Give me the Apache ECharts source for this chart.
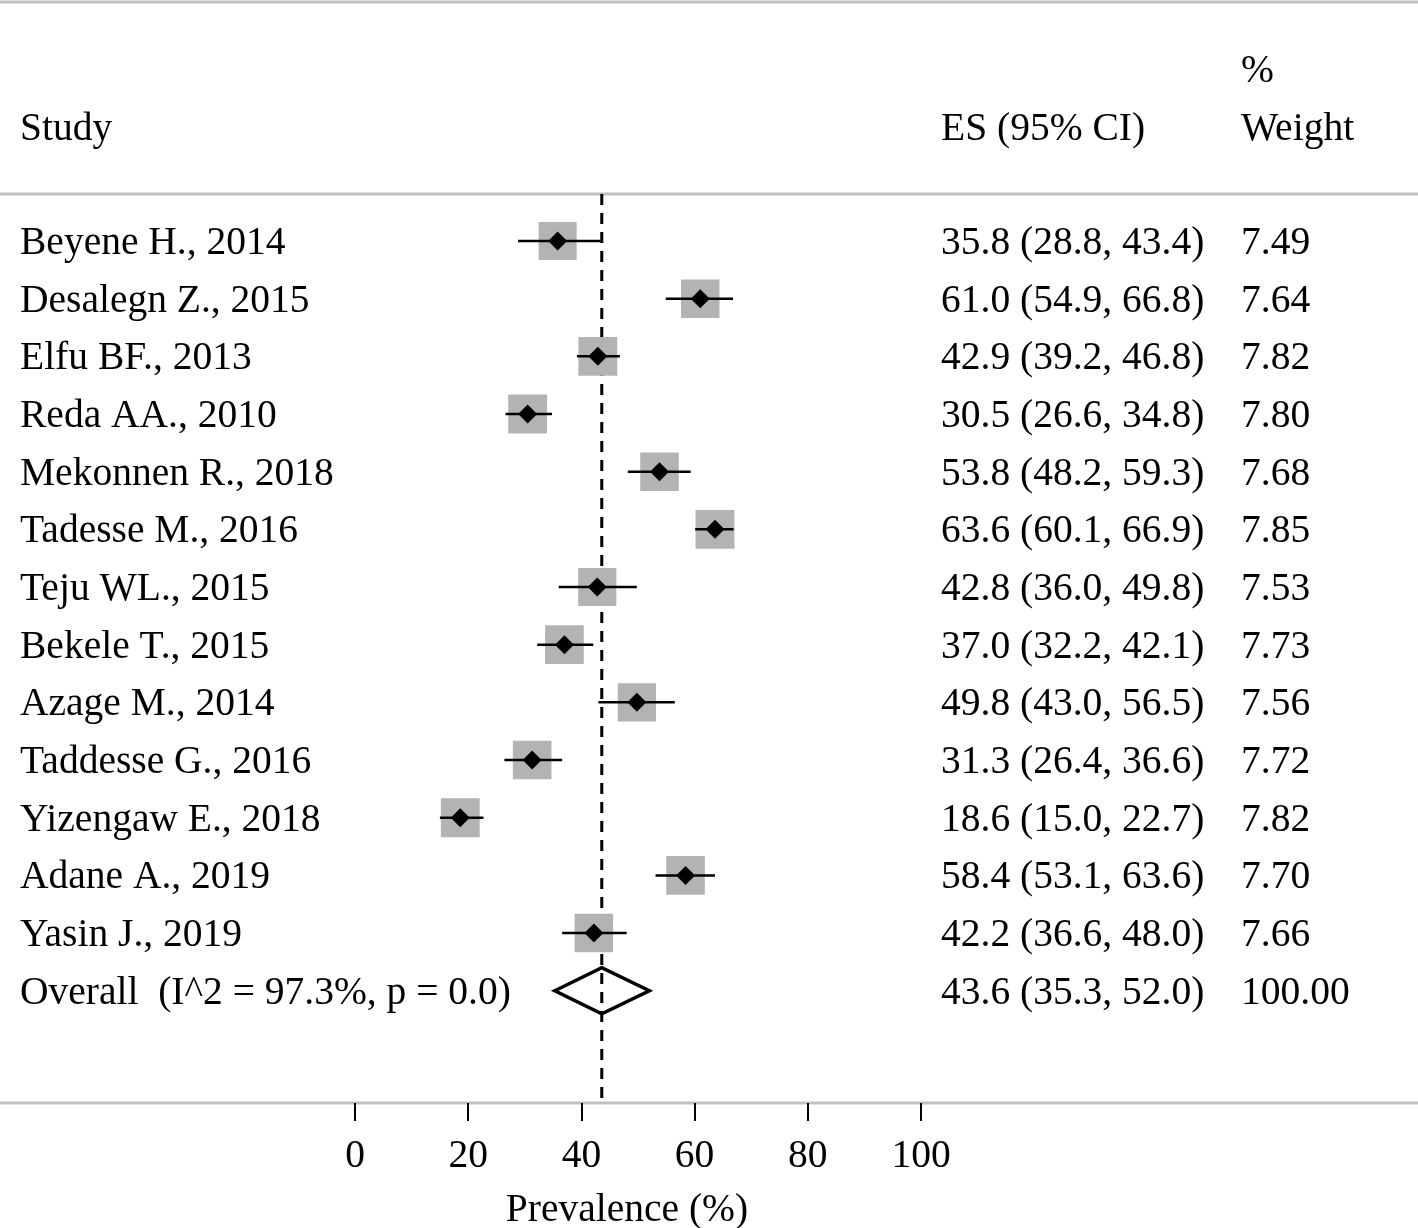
<!DOCTYPE html>
<html><head><meta charset="utf-8">
<script src="https://cdn.jsdelivr.net/npm/echarts@6/dist/echarts.min.js"></script>
<style>html,body{margin:0;padding:0;background:#fff}#c{width:1418px;height:1228px}</style>
</head><body><div id="c"></div>
<script>
const studies = ['Beyene H., 2014','Desalegn Z., 2015','Elfu BF., 2013','Reda AA., 2010','Mekonnen R., 2018','Tadesse M., 2016','Teju WL., 2015','Bekele T., 2015','Azage M., 2014','Taddesse G., 2016','Yizengaw E., 2018','Adane A., 2019','Yasin J., 2019'];
const es = [35.8, 61.0, 42.9, 30.5, 53.8, 63.6, 42.8, 37.0, 49.8, 31.3, 18.6, 58.4, 42.2];
const lo = [28.8, 54.9, 39.2, 26.6, 48.2, 60.1, 36.0, 32.2, 43.0, 26.4, 15.0, 53.1, 36.6];
const hi = [43.4, 66.8, 46.8, 34.8, 59.3, 66.9, 49.8, 42.1, 56.5, 36.6, 22.7, 63.6, 48.0];
const weights = [7.49, 7.64, 7.82, 7.80, 7.68, 7.85, 7.53, 7.73, 7.56, 7.72, 7.82, 7.70, 7.66];
const overallLabel = 'Overall  (I^2 = 97.3%, p = 0.0)';
const overallEs = [43.6];
const overallLo = [35.3];
const overallHi = [52.0];
const overallWeight = [100.00];
const xTicks = [0, 20, 40, 60, 80, 100];
const xTitle = 'Prevalence (%)';
const headers = {study: 'Study', es: 'ES (95% CI)', pct: '%', weight: 'Weight'};

const FONT = '39.5px "Liberation Serif", "Times New Roman", serif';
const X_STUDY = 20, X_ES = 941, X_W = 1241;
const TEXT_DY = 2.5;
const fmt = (v) => v.toFixed(1);
const esText = (e, l, h) => fmt(e) + ' (' + fmt(l) + ', ' + fmt(h) + ')';

const chart = echarts.init(document.getElementById('c'), null, {renderer: 'canvas'});

const studyData = studies.map((s, i) => [i, es[i], lo[i], hi[i], weights[i]]);
const overallData = [[studies.length, overallEs[0], overallLo[0], overallHi[0], overallWeight[0]]];

function txt(x, y, t) {
  return {type: 'text', style: {x: x, y: y + TEXT_DY, text: t, font: FONT, fill: '#000', align: 'left', verticalAlign: 'middle'}};
}

const option = {
  backgroundColor: '#fff',
  animation: false,
  grid: {left: 355, width: 566, top: 194, height: 909},
  xAxis: {
    type: 'value', min: 0, max: 100, interval: 20,
    axisLine: {show: false, onZero: false},
    splitLine: {show: false},
    axisTick: {show: true, length: 18, lineStyle: {color: '#000', width: 2}},
    axisLabel: {fontFamily: '"Liberation Serif", serif', fontSize: 39.5, color: '#000', margin: 34,
      formatter: (v) => xTicks.indexOf(v) >= 0 ? String(v) : ''}
  },
  yAxis: {type: 'value', inverse: true, min: -0.815, max: 14.947, show: false},
  graphic: [
    {type: 'line', shape: {x1: 0, y1: 2, x2: 1418, y2: 2}, style: {stroke: '#c0c0c0', lineWidth: 3}},
    {type: 'line', shape: {x1: 0, y1: 194, x2: 1418, y2: 194}, style: {stroke: '#c0c0c0', lineWidth: 3}},
    {type: 'line', shape: {x1: 0, y1: 1103, x2: 1418, y2: 1103}, style: {stroke: '#c0c0c0', lineWidth: 3}},
    {type: 'text', style: {x: X_STUDY, y: 127 + TEXT_DY, text: headers.study, font: FONT, fill: '#000', verticalAlign: 'middle'}},
    {type: 'text', style: {x: X_ES, y: 127 + TEXT_DY, text: headers.es, font: FONT, fill: '#000', verticalAlign: 'middle'}},
    {type: 'text', style: {x: X_W, y: 69 + TEXT_DY, text: headers.pct, font: FONT, fill: '#000', verticalAlign: 'middle'}},
    {type: 'text', style: {x: X_W, y: 127 + TEXT_DY, text: headers.weight, font: FONT, fill: '#000', verticalAlign: 'middle'}},
    {type: 'text', style: {x: 627, y: 1208 + TEXT_DY, text: xTitle, font: FONT, fill: '#000', align: 'center', verticalAlign: 'middle'}}
  ],
  series: [
    {
      type: 'custom', z: 1, clip: false, data: overallData,
      renderItem: function (params, api) {
        const cs = params.coordSys;
        const x = api.coord([api.value(1), 0])[0];
        return {type: 'line', shape: {x1: x, y1: cs.y, x2: x, y2: cs.y + cs.height},
          style: {stroke: '#000', lineWidth: 3, lineDash: [11, 8]}};
      }
    },
    {
      type: 'custom', z: 2, clip: false, data: studyData,
      renderItem: function (params, api) {
        const i = api.value(0);
        const y = api.coord([0, i])[1];
        const xe = api.coord([api.value(1), i])[0];
        const xl = api.coord([api.value(2), i])[0];
        const xh = api.coord([api.value(3), i])[0];
        const w = api.value(4);
        const side = 13.9 * Math.sqrt(w);
        const d = 9.5;
        return {type: 'group', children: [
          {type: 'rect', shape: {x: xe - side / 2, y: y - side / 2, width: side, height: side}, style: {fill: '#b3b3b3'}},
          {type: 'line', shape: {x1: xl, y1: y, x2: xh, y2: y}, style: {stroke: '#000', lineWidth: 2.5}},
          {type: 'polygon', shape: {points: [[xe - d, y], [xe, y - d], [xe + d, y], [xe, y + d]]}, style: {fill: '#000'}},
          txt(X_STUDY, y, studies[i]),
          txt(X_ES, y, esText(api.value(1), api.value(2), api.value(3))),
          txt(X_W, y, w.toFixed(2))
        ]};
      }
    },
    {
      type: 'custom', z: 3, clip: false, data: overallData,
      renderItem: function (params, api) {
        const i = api.value(0);
        const y = api.coord([0, i])[1];
        const xe = api.coord([api.value(1), i])[0];
        const xl = api.coord([api.value(2), i])[0];
        const xh = api.coord([api.value(3), i])[0];
        const h = 23;
        return {type: 'group', children: [
          {type: 'polygon', shape: {points: [[xl, y], [xe, y - h], [xh, y], [xe, y + h]]},
            style: {fill: 'none', stroke: '#000', lineWidth: 3.5, lineJoin: 'miter'}},
          txt(X_STUDY, y, overallLabel),
          txt(X_ES, y, esText(api.value(1), api.value(2), api.value(3))),
          txt(X_W, y, api.value(4).toFixed(2))
        ]};
      }
    }
  ]
};
chart.setOption(option);
</script>
</body></html>
